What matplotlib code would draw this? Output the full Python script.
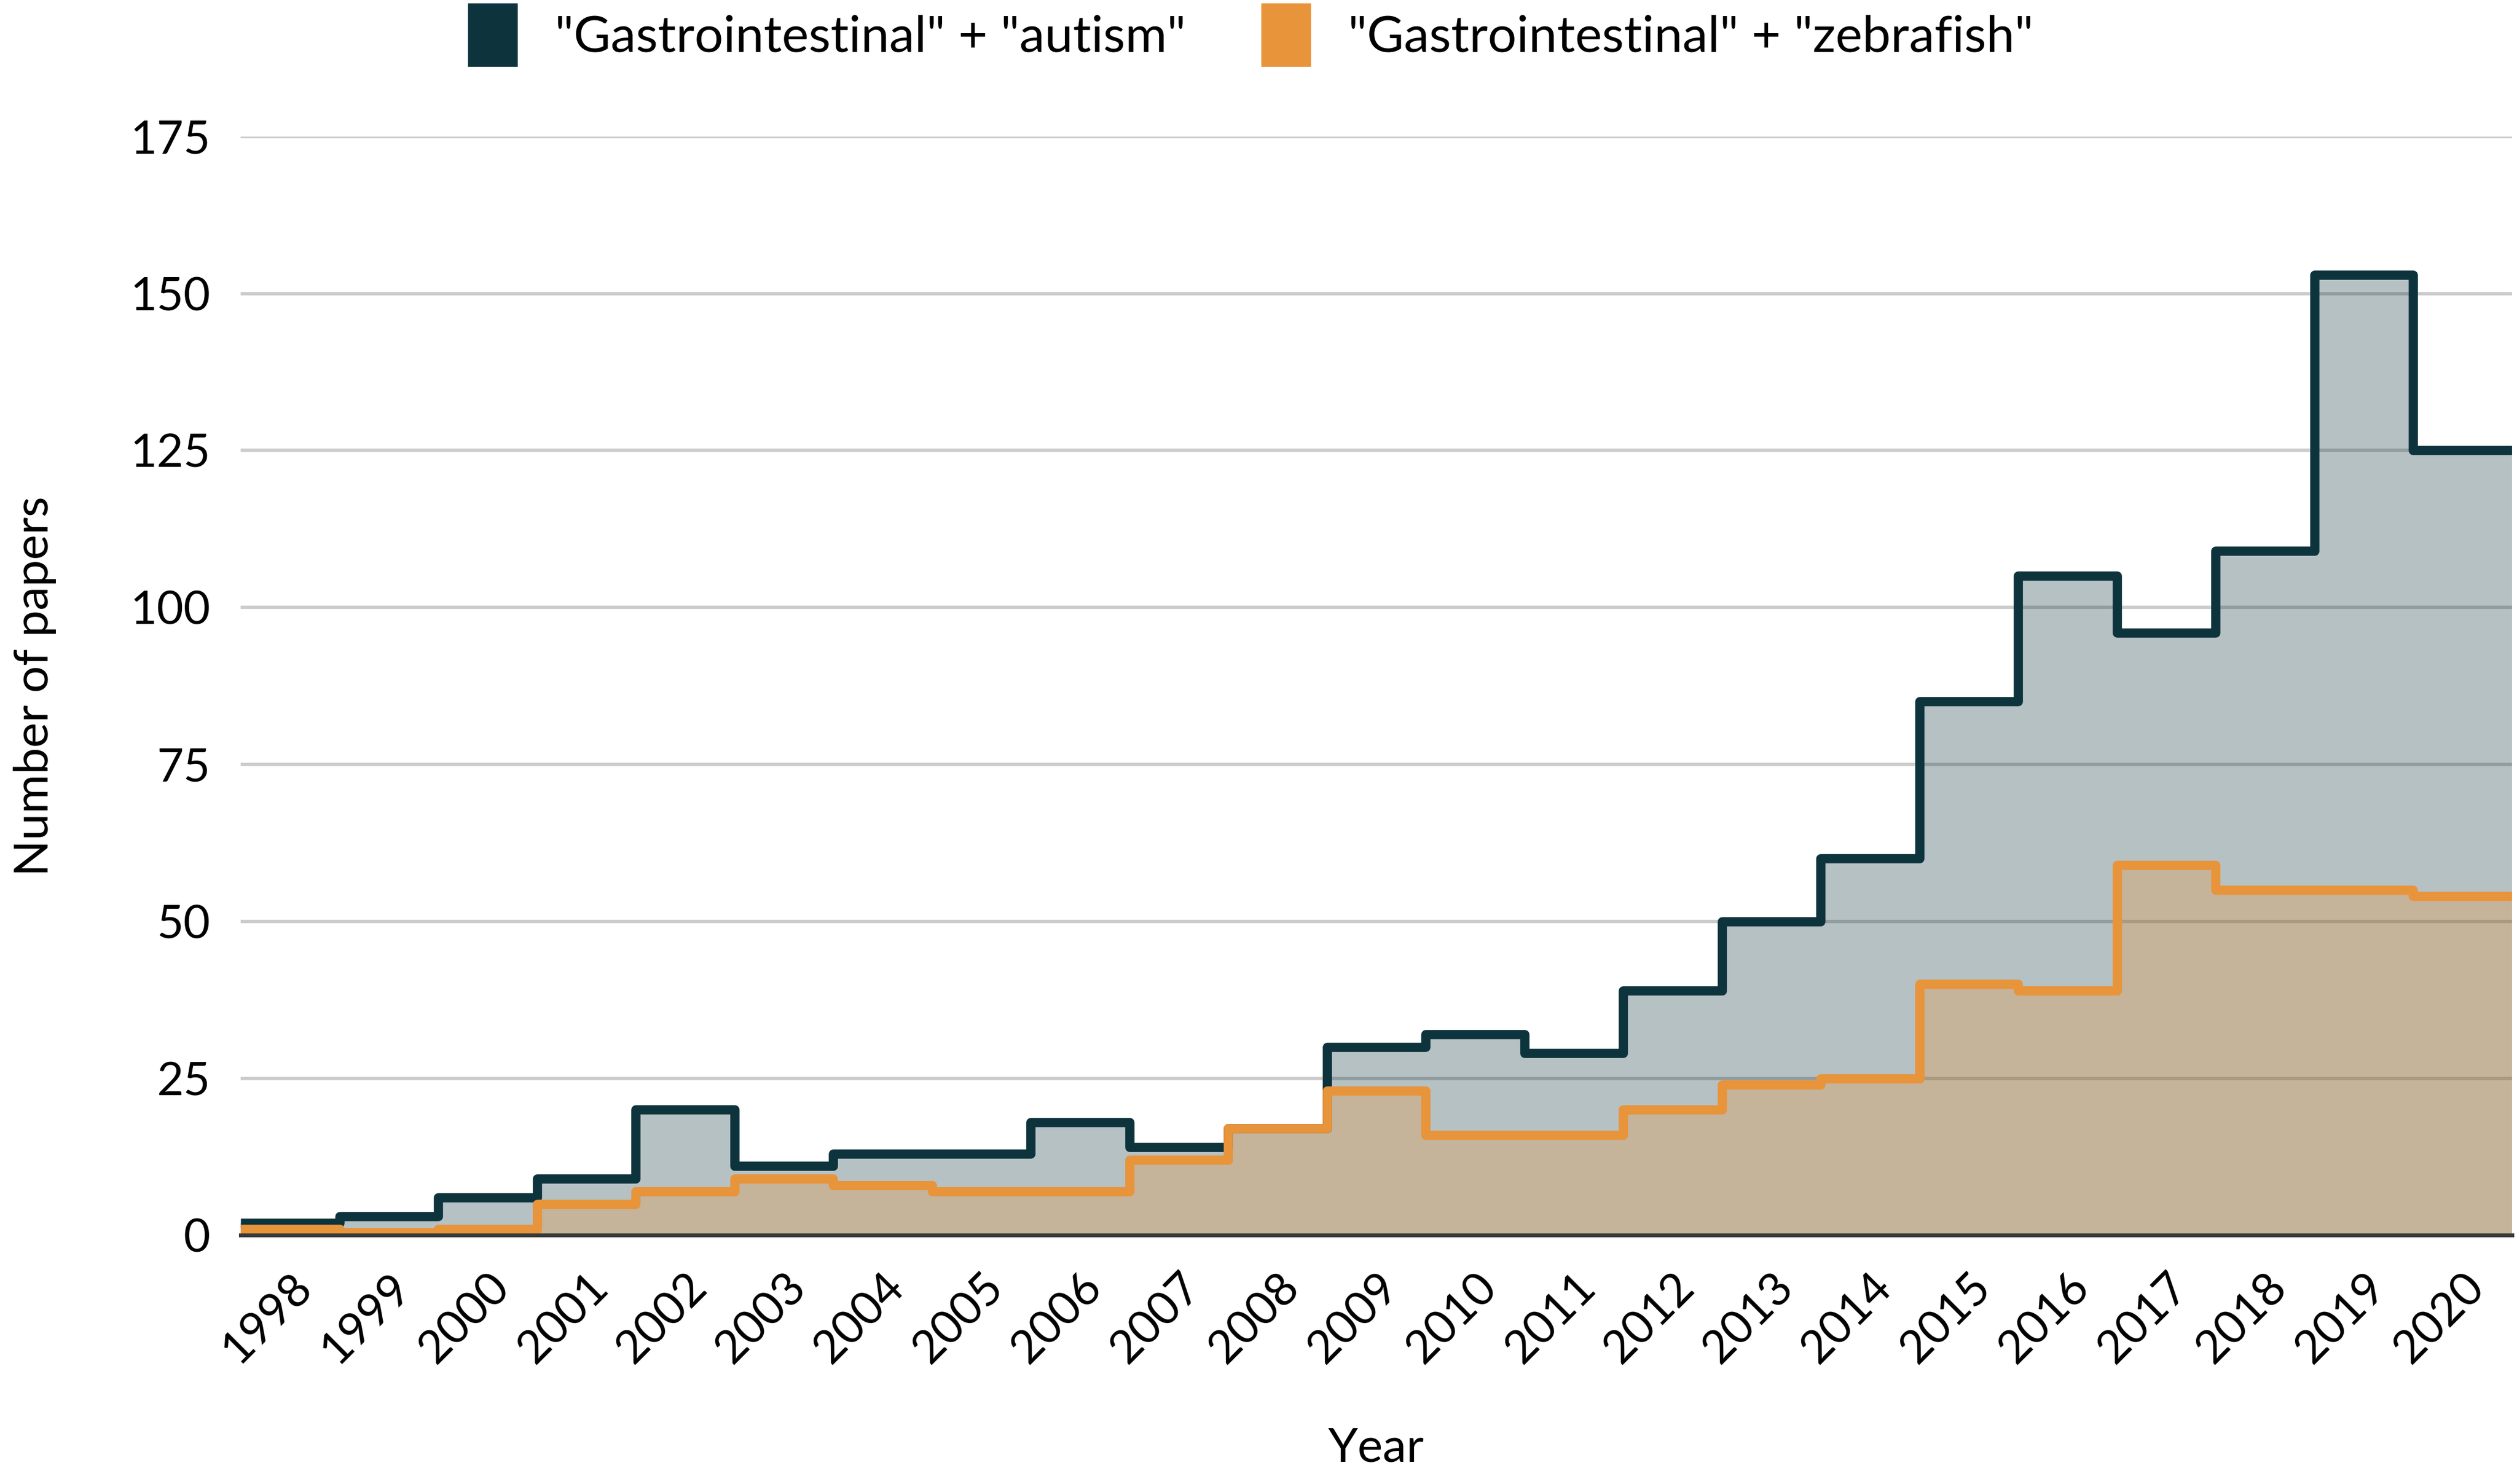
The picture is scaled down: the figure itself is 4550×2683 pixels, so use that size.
import matplotlib
matplotlib.use("Agg")
import matplotlib.pyplot as plt
from matplotlib.patches import Patch
import numpy as np

years = [str(y) for y in range(1998, 2021)]
autism = [2, 3, 6, 9, 20, 11, 13, 13, 18, 14, 17, 30, 32, 29, 39, 50, 60, 85, 105, 96, 109, 153, 125]
zebrafish = [1, 0.5, 1, 5, 7, 9, 8, 7, 7, 12, 17, 23, 16, 16, 20, 24, 25, 40, 39, 59, 55, 55, 54]

dark = '#0d333c'
orange = '#e8943a'

plt.rcParams['font.family'] = ['Lato', 'DejaVu Sans']

fig = plt.figure(figsize=(22.75, 13.415), dpi=200)
ax = fig.add_axes([0.0957, 0.1676, 0.9023, 0.7404])

edges = np.arange(len(years) + 1)

# filled areas (semi-transparent so the grid shows through)
ax.stairs(autism, edges, baseline=0, fill=True, color=dark, alpha=0.3, lw=0, zorder=2)
ax.stairs(zebrafish, edges, baseline=0, fill=True, color=orange, alpha=0.3, lw=0, zorder=3)

# step outlines
s1 = ax.stairs(autism, edges, baseline=None, color=dark, lw=6, zorder=4)
s2 = ax.stairs(zebrafish, edges, baseline=None, color=orange, lw=6, zorder=5)
for s in (s1, s2):
    s.set_joinstyle('round')
    s.set_capstyle('butt')

ax.set_xlim(0, len(years))
ax.set_ylim(0, 175)
ax.set_yticks(np.arange(0, 176, 25))
ax.set_xticks(edges[:-1] + 0.5)
ax.set_xticklabels(years, rotation=45, ha='right', rotation_mode='anchor')

ax.grid(axis='y', color='#cccccc', lw=2.2)
ax.set_axisbelow(True)
for sp in ['top', 'right', 'left']:
    ax.spines[sp].set_visible(False)
ax.spines['bottom'].set_color('#3a3a3a')
ax.spines['bottom'].set_linewidth(2.5)
ax.spines['bottom'].set_zorder(6)
ax.tick_params(axis='both', length=0, labelsize=30)
ax.tick_params(axis='y', pad=20)
ax.tick_params(axis='x', pad=20)

ax.set_xlabel('Year', fontsize=31, labelpad=36)
ax.set_ylabel('Number of papers', fontsize=31, labelpad=48)

handles = [Patch(facecolor=dark, edgecolor=dark), Patch(facecolor=orange, edgecolor=orange)]
labels = ['"Gastrointestinal" + "autism"', '"Gastrointestinal" + "zebrafish"']
fig.legend(handles, labels, loc='upper center', bbox_to_anchor=(0.497, 1.028), ncol=2,
           frameon=False, fontsize=33, handlelength=0.95, handleheight=1.5,
           handletextpad=0.75, columnspacing=1.5)

fig.savefig('out.png', dpi=200)
